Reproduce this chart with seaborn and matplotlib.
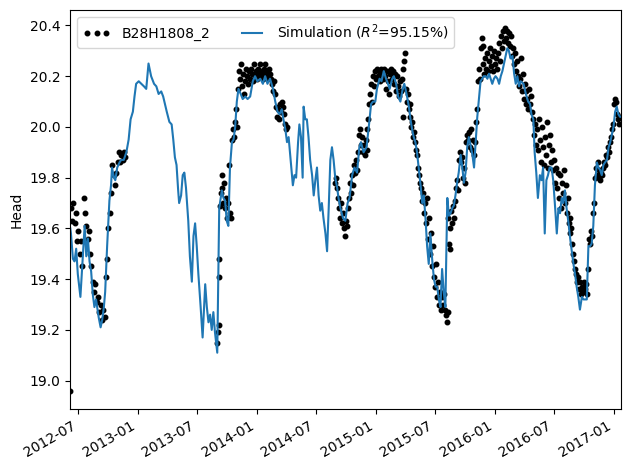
import matplotlib
matplotlib.use("Agg")
import matplotlib.pyplot as plt
import matplotlib.dates as mdates
import numpy as np
import pandas as pd
import seaborn as sns

# ---------------- data (days since 2012-07-01, head) ----------------
obs_name = "B28H1808_2"
sim_label = "Simulation ($R^2$=95.15%)"
y_label = "Head"
base_date = "2012-07-01"

obs_days = [
    -23,
    -22, -18, -14, -10, -6, -2, 2, 6, 10, 14, 18, 22, 26, 30, 34, 38, 42, 46, 50, 54,
    58, 62, 66, 70, 74, 78, 82, 86, 90, 94, 98, 102, 106, 110, 114, 118, 122, 126, 130,
    134, 138, 142, 146,
    428, 430, 432, 433, 434, 435, 438, 441, 444, 447, 450, 453, 456, 459, 462, 465, 468,
    471, 474, 477, 480, 483, 486, 489, 492, 495, 498, 501, 504, 507, 510, 513, 516, 519,
    522, 525, 528, 531, 534, 537, 540, 543, 546, 549, 552, 555, 558, 561, 564, 567, 570,
    573, 576, 579, 582, 585, 588, 591, 594, 597, 600, 603, 606, 609, 612, 615, 618, 621,
    624, 627, 630, 633, 636, 639, 642,
    790, 793, 796, 799, 802, 805, 808, 811, 814, 817, 820, 823, 826, 829, 832, 835, 838,
    841, 844, 847, 850, 853, 856, 859, 862, 865, 868, 871, 874, 877, 880, 883, 886, 889,
    892, 895, 898, 901, 904, 907, 910, 913, 916, 919, 922, 925, 928, 931, 934, 937, 940,
    943, 946, 949, 952, 955, 958, 961, 964, 967, 970, 973, 976, 979, 982, 985, 988, 991,
    994, 997, 999, 1001, 1003, 1006, 1009, 1012, 1015, 1018, 1021, 1024, 1027, 1030, 1033,
    1036, 1039, 1042, 1045, 1048, 1051, 1054, 1057, 1060, 1063, 1066, 1069, 1072, 1075,
    1078, 1081, 1084, 1087, 1090, 1093, 1096, 1099, 1102, 1105, 1108, 1111, 1114, 1117,
    1120, 1123, 1126, 1129, 1132, 1135, 1137, 1139, 1141, 1143, 1146, 1149, 1152, 1155,
    1158, 1161, 1164, 1167, 1170, 1173, 1176, 1179, 1182, 1185, 1188, 1191, 1194, 1197,
    1200, 1203, 1206, 1209, 1212, 1215, 1218, 1221, 1224, 1227, 1230, 1233, 1236, 1239,
    1242, 1245, 1248, 1251, 1254, 1257, 1260, 1263, 1266, 1269, 1272, 1275, 1278, 1281,
    1284, 1287, 1290, 1293, 1296, 1299, 1302, 1305, 1308, 1311, 1314, 1317, 1320, 1323,
    1326, 1329, 1332, 1335, 1338, 1341, 1344, 1347, 1350, 1353, 1356, 1359, 1362, 1365,
    1368, 1371, 1374, 1377, 1380, 1383, 1386, 1389, 1392, 1395, 1398, 1401, 1404, 1407,
    1410, 1413, 1416, 1419, 1422, 1425, 1428, 1431, 1434, 1437, 1440, 1443, 1446, 1449,
    1452, 1455, 1458, 1461, 1464, 1467, 1470, 1473, 1476, 1479, 1482, 1485, 1488, 1491,
    1494, 1497, 1500, 1503, 1506, 1509, 1512, 1515, 1518, 1521, 1524, 1527, 1530, 1533,
    1536, 1539, 1542, 1545, 1548, 1551, 1554, 1557, 1560, 1563, 1565, 1568, 1571, 1574,
    1577, 1580, 1583, 1586, 1589, 1592, 1595, 1598, 1601, 1604, 1607, 1610, 1613, 1616,
    1619, 1622, 1625, 1628, 1631, 1634, 1637, 1640, 1643, 1646, 1649, 1652, 1655, 1658,
    1661, 1664,
]
obs_head = [
    18.96,
    19.68, 19.63, 19.70, 19.62, 19.66, 19.55, 19.59, 19.50, 19.55, 19.45, 19.72, 19.66,
    19.61, 19.56, 19.59, 19.50, 19.45, 19.39, 19.35, 19.38, 19.31, 19.33, 19.27, 19.30,
    19.24, 19.28, 19.25, 19.41, 19.48, 19.60, 19.66, 19.74, 19.85, 19.81, 19.77, 19.82,
    19.86, 19.90, 19.86, 19.89, 19.87, 19.90, 19.88,
    19.15, 19.19, 19.22, 19.41, 19.48, 19.69, 19.74, 19.81, 19.76, 19.70, 19.78, 19.68,
    19.72, 19.64, 19.70, 19.85, 19.66, 19.64, 19.95, 19.99, 19.96, 20.02, 20.07, 20.00,
    20.15, 20.22, 20.19, 20.25, 20.16, 20.21, 20.13, 20.18, 20.23, 20.20, 20.17, 20.22,
    20.19, 20.23, 20.21, 20.18, 20.25, 20.20, 20.22, 20.19, 20.23, 20.21, 20.25, 20.20,
    20.22, 20.19, 20.23, 20.21, 20.25, 20.20, 20.22, 20.19, 20.23, 20.21, 20.19, 20.17,
    20.14, 20.18, 20.13, 20.08, 20.04, 20.07, 20.03, 20.09, 20.06, 20.10, 20.08, 20.05,
    20.01, 19.99, 20.00,
    19.78, 19.80, 19.76, 19.72, 19.68, 19.64, 19.70, 19.62, 19.66, 19.60, 19.57, 19.63,
    19.61, 19.68, 19.72, 19.78, 19.74, 19.81, 19.77, 19.85, 19.82, 19.87, 19.83, 19.90,
    19.97, 19.99, 19.93, 19.96, 19.90, 19.93, 19.89, 19.95, 19.91, 19.99, 20.03, 20.09,
    20.13, 20.17, 20.10, 20.20, 20.16, 20.22, 20.19, 20.23, 20.20, 20.22, 20.18, 20.23,
    20.21, 20.19, 20.23, 20.20, 20.15, 20.22, 20.18, 20.13, 20.21, 20.23, 20.19, 20.22,
    20.17, 20.21, 20.14, 20.20, 20.16, 20.12, 20.18, 20.14, 20.19, 20.23, 20.04, 20.26,
    20.29, 20.15, 20.10, 20.13, 20.07, 20.09, 20.04, 20.00, 20.02, 19.96, 19.98, 19.94,
    19.91, 19.89, 19.84, 19.81, 19.78, 19.76, 19.71, 19.74, 19.66, 19.70, 19.62, 19.72,
    19.56, 19.64, 19.50, 19.58, 19.45, 19.53, 19.41, 19.37, 19.46, 19.33, 19.39, 19.30,
    19.35, 19.28, 19.33, 19.30, 19.34, 19.28, 19.26, 19.23, 19.27, 19.64, 19.54, 19.60,
    19.52, 19.67, 19.62, 19.69, 19.64, 19.71, 19.76, 19.79, 19.75, 19.87, 19.90, 19.86,
    19.88, 19.80, 19.84, 19.78, 19.94, 19.97, 19.95, 19.98, 19.92, 19.99, 19.91, 19.95,
    19.89, 19.94, 20.02, 20.07, 20.18, 20.23, 20.19, 20.31, 20.35, 20.25, 20.32, 20.21,
    20.27, 20.23, 20.29, 20.22, 20.26, 20.31, 20.24, 20.28, 20.22, 20.30, 20.25, 20.27,
    20.23, 20.29, 20.33, 20.26, 20.36, 20.31, 20.38, 20.34, 20.39, 20.35, 20.38, 20.33,
    20.37, 20.32, 20.36, 20.28, 20.31, 20.25, 20.29, 20.22, 20.26, 20.20, 20.16, 20.19,
    20.27, 20.14, 20.21, 20.11, 20.17, 20.09, 20.14, 20.11, 20.07, 20.15, 20.09, 20.12,
    20.06, 20.03, 19.97, 20.01, 19.93, 19.99, 19.91, 20.03, 19.95, 19.86, 20.00, 19.92,
    19.85, 19.96, 19.89, 20.02, 19.84, 19.93, 19.97, 19.86, 19.91, 19.83, 19.87, 19.78,
    19.84, 19.76, 19.82, 19.72, 19.81, 19.68, 19.78, 19.74, 19.83, 19.70, 19.77, 19.66,
    19.72, 19.62, 19.64, 19.58, 19.60, 19.54, 19.50, 19.47, 19.44, 19.42, 19.39, 19.41,
    19.36, 19.39, 19.34, 19.37, 19.35, 19.39, 19.36, 19.38, 19.34, 19.44, 19.56, 19.54,
    19.59, 19.57, 19.66, 19.70, 19.80, 19.84, 19.81, 19.86, 19.80, 19.83, 19.79, 19.82,
    19.81, 19.84, 19.86, 19.85, 19.89, 19.88, 19.92, 19.90, 19.94, 19.96, 19.99, 20.01,
    20.09, 20.11, 20.10, 20.05, 20.03, 20.01, 20.04,
]

sim_days = [
    -23, -21, -15, -10, -5, 0, 8, 15, 21, 26, 31, 36, 41, 46, 51, 56, 64, 70, 75, 80, 84,
    90, 97, 102, 105, 111, 115, 121, 128, 133, 141, 149, 156, 162, 169, 174, 179, 187, 195,
    203, 210, 217, 225, 234, 241, 248, 256, 262, 273, 281, 288, 293, 298, 303, 308, 311,
    317, 322, 327, 332, 339, 344, 350, 355, 360, 365, 370, 377, 383, 391, 396, 401, 406,
    411, 416, 421, 428, 434, 442, 447, 452, 457, 462, 467, 473, 478, 483, 488, 493, 500,
    506, 514, 521, 529, 537, 544, 551, 560, 568, 575, 582, 590, 599, 606, 613, 619, 626,
    631, 637, 642, 647, 654, 660, 665, 670, 676, 680, 685, 690, 693, 698, 703, 708, 713,
    719, 724, 729, 734, 739, 744, 749, 754, 760, 765, 770, 775, 780, 785, 790, 796, 800,
    806, 814, 821, 828, 834, 842, 849, 857, 864, 869, 877, 886, 893, 900, 906, 913, 918,
    926, 932, 939, 946, 952, 957, 965, 970, 977, 983, 990, 997, 1002, 1009, 1016, 1021,
    1026, 1031, 1036, 1041, 1046, 1052, 1057, 1062, 1067, 1072, 1077, 1082, 1088, 1093,
    1098, 1103, 1108, 1113, 1118, 1123, 1128, 1134, 1139, 1144, 1149, 1154, 1159, 1164,
    1169, 1175, 1180, 1185, 1190, 1195, 1200, 1205, 1211, 1216, 1221, 1226, 1231, 1236,
    1241, 1246, 1252, 1257, 1262, 1267, 1272, 1277, 1282, 1288, 1293, 1298, 1303, 1308,
    1313, 1318, 1323, 1328, 1334, 1339, 1344, 1349, 1354, 1359, 1368, 1375, 1382, 1388,
    1392, 1398, 1402, 1407, 1412, 1418, 1423, 1428, 1433, 1438, 1443, 1448, 1454, 1459,
    1465, 1470, 1475, 1480, 1485, 1490, 1495, 1500, 1506, 1511, 1516, 1521, 1526, 1531,
    1536, 1541, 1547, 1552, 1557, 1562, 1567, 1572, 1577, 1582, 1587, 1593, 1598, 1603,
    1608, 1613, 1618, 1624, 1629, 1634, 1639, 1644, 1649, 1654, 1659, 1664, 1667,
]
sim_head = [
    19.60, 19.58, 19.48, 19.47, 19.52, 19.42, 19.33, 19.48, 19.61, 19.49, 19.56, 19.47,
    19.43, 19.34, 19.29, 19.32, 19.25, 19.21, 19.24, 19.29, 19.35, 19.53, 19.71, 19.77,
    19.84, 19.80, 19.79, 19.84, 19.86, 19.87, 19.87, 19.90, 19.95, 20.03, 20.06, 20.12,
    20.17, 20.18, 20.17, 20.16, 20.15, 20.25, 20.20, 20.17, 20.16, 20.13, 20.14, 20.12,
    20.06, 20.02, 20.01, 19.95, 19.88, 19.85, 19.75, 19.70, 19.73, 19.81, 19.82, 19.76,
    19.63, 19.49, 19.39, 19.57, 19.62, 19.53, 19.42, 19.29, 19.17, 19.38, 19.29, 19.23,
    19.26, 19.20, 19.27, 19.19, 19.11, 19.68, 19.75, 19.72, 19.71, 19.63, 19.61, 19.84,
    19.94, 19.95, 20.00, 20.10, 20.15, 20.13, 20.11, 20.12, 20.11, 20.12, 20.18, 20.20,
    20.18, 20.19, 20.17, 20.20, 20.17, 20.19, 20.15, 20.10, 20.06, 20.05, 20.07, 20.03,
    19.99, 19.94, 19.96, 19.86, 19.77, 19.81, 19.80, 19.94, 20.01, 19.96, 19.80, 20.08,
    20.03, 20.03, 19.96, 19.87, 19.81, 19.73, 19.79, 19.84, 19.73, 19.67, 19.70, 19.64,
    19.58, 19.51, 19.68, 19.87, 19.92, 19.87, 19.80, 19.76, 19.72, 19.68, 19.64, 19.63,
    19.70, 19.72, 19.81, 19.84, 19.82, 19.92, 19.94, 19.90, 19.92, 20.00, 20.09, 20.10,
    20.10, 20.15, 20.19, 20.18, 20.22, 20.19, 20.17, 20.15, 20.19, 20.20, 20.17, 20.12,
    20.10, 20.15, 20.17, 20.13, 20.08, 20.03, 19.99, 19.96, 19.94, 19.90, 19.84, 19.77,
    19.70, 19.73, 19.64, 19.53, 19.46, 19.58, 19.47, 19.40, 19.37, 19.37, 19.32, 19.29,
    19.44, 19.35, 19.29, 19.72, 19.65, 19.66, 19.68, 19.69, 19.73, 19.78, 19.82, 19.89,
    19.84, 19.78, 19.82, 19.92, 19.96, 19.93, 19.89, 19.84, 19.94, 20.04, 20.11, 20.18,
    20.19, 20.20, 20.20, 20.19, 20.21, 20.19, 20.17, 20.19, 20.20, 20.19, 20.17, 20.20,
    20.22, 20.25, 20.28, 20.31, 20.30, 20.27, 20.28, 20.21, 20.17, 20.20, 20.16, 20.18,
    20.17, 20.13, 20.10, 20.09, 20.05, 20.03, 19.90, 19.82, 19.72, 19.81, 19.79, 19.84,
    19.58, 19.79, 19.81, 19.84, 19.84, 19.79, 19.68, 19.58, 19.68, 19.66, 19.72, 19.70,
    19.75, 19.68, 19.62, 19.56, 19.51, 19.46, 19.42, 19.37, 19.33, 19.28, 19.33, 19.32,
    19.32, 19.32, 19.53, 19.53, 19.54, 19.61, 19.77, 19.86, 19.84, 19.83, 19.81, 19.85,
    19.86, 19.87, 19.92, 19.94, 19.97, 20.00, 20.06, 20.08, 20.05, 20.04, 20.04,
]

# ---------------- frames ----------------
t0 = pd.Timestamp(base_date)
obs = pd.DataFrame({"date": t0 + pd.to_timedelta(obs_days, unit="D"), "head": obs_head})
sim = pd.DataFrame({"date": t0 + pd.to_timedelta(sim_days, unit="D"), "head": sim_head})

# ---------------- plot ----------------
fig, ax = plt.subplots(figsize=(6.3, 4.7), dpi=100)

sns.lineplot(data=obs, x="date", y="head", ax=ax, color="k", marker=".",
             linestyle="none", markersize=6.5, markeredgecolor="k",
             markeredgewidth=1.0, label=obs_name, sort=True)
sns.lineplot(data=sim, x="date", y="head", ax=ax, color="#1f77b4",
             linewidth=1.5, label=sim_label, sort=True)

ax.set_xlim(min(obs["date"].min(), sim["date"].min()),
            max(obs["date"].max(), sim["date"].max()))
ax.xaxis.set_major_locator(mdates.MonthLocator(bymonth=(1, 7)))
ax.xaxis.set_major_formatter(mdates.DateFormatter("%Y-%m"))
ax.set_xlabel("")
ax.set_ylabel(y_label)
ax.legend(loc="upper left", ncol=2, numpoints=3)
fig.autofmt_xdate()
fig.subplots_adjust(left=0.1116, right=0.9857, top=0.979, bottom=0.130)
fig.savefig("out.png", dpi=100)
